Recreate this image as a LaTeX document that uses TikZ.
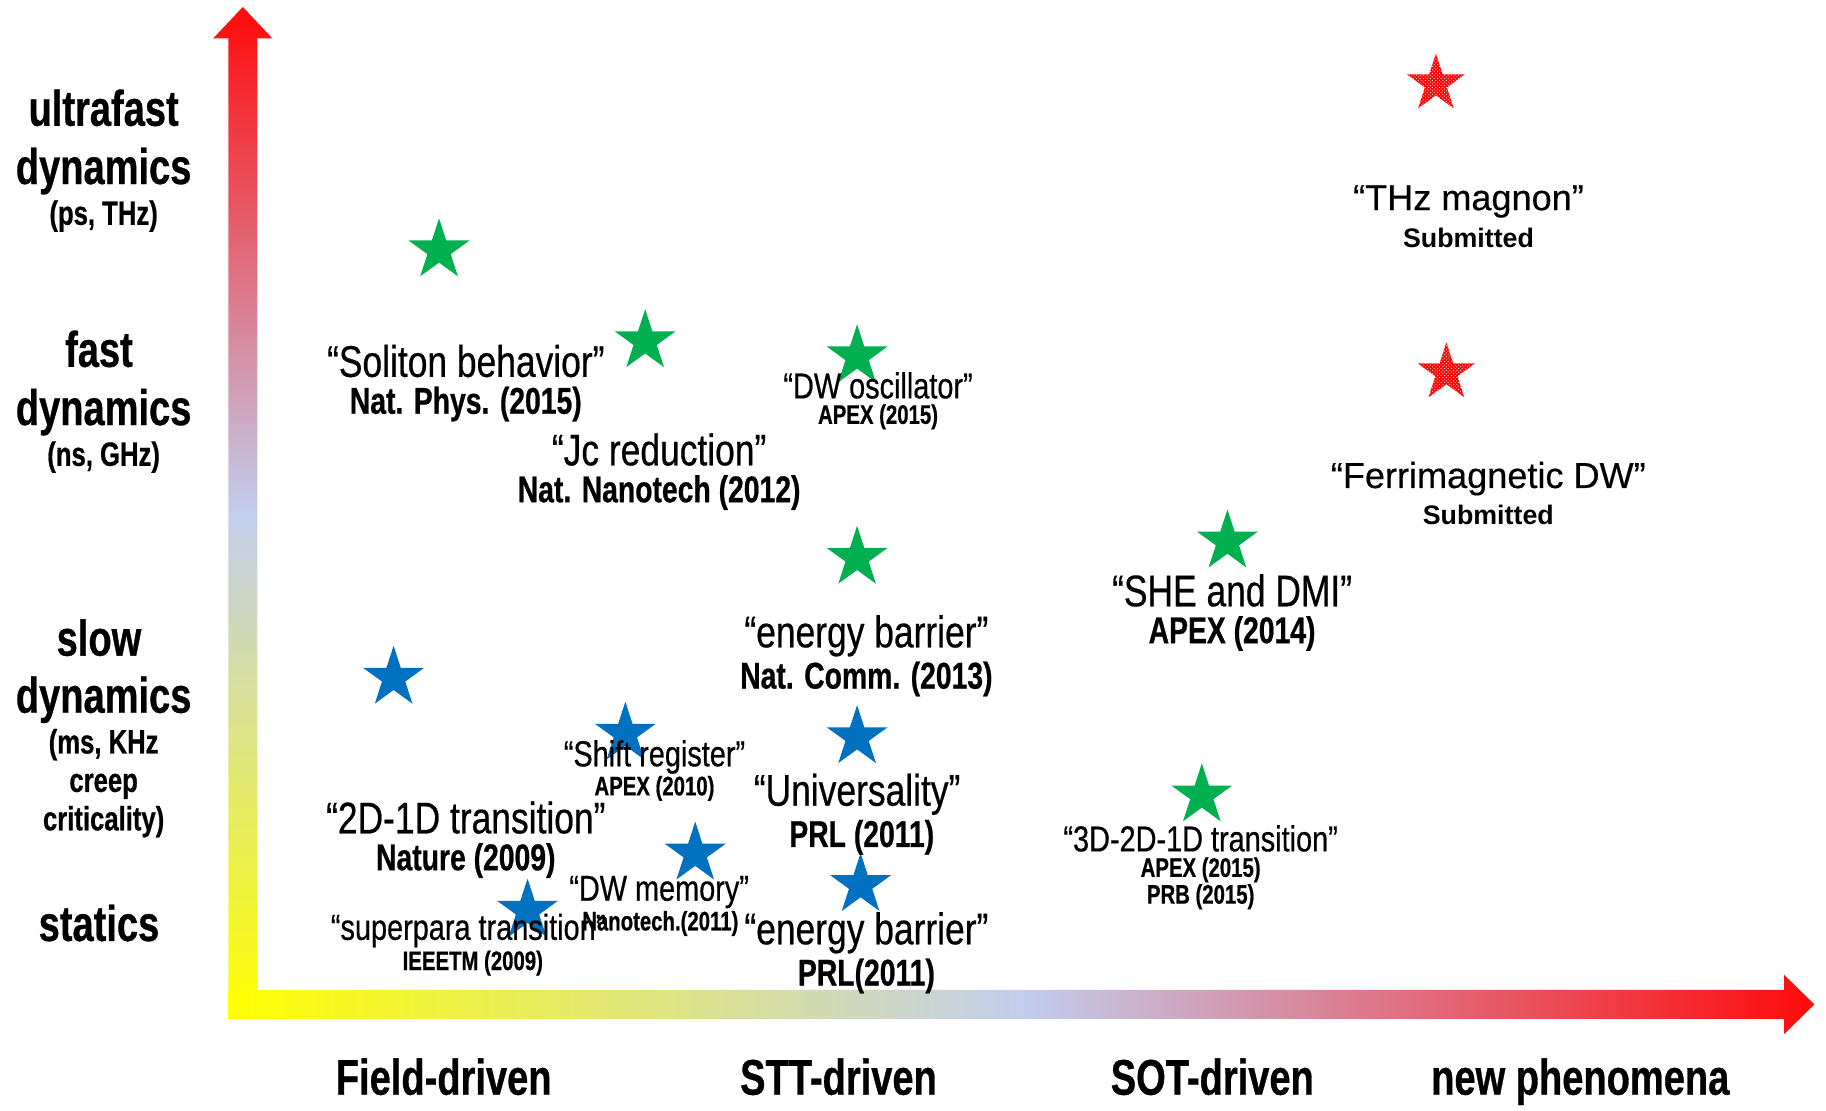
\documentclass[tikz,border=0pt]{standalone}
\usepackage{fontspec}
\setmainfont{Liberation Sans}
\newfontfamily\condB[FakeStretch=0.76,FakeBold=0.6]{Liberation Sans}
\newfontfamily\condR[FakeStretch=0.8,FakeBold=0.5]{Liberation Sans}
\newfontfamily\wideR[FakeBold=0.4]{Liberation Sans}
\usetikzlibrary{shapes.geometric,patterns}
\definecolor{axred}{HTML}{FF0A0A}
\definecolor{axyellow}{HTML}{FFFF00}
\definecolor{axblue}{HTML}{C2CEEE}
\definecolor{sgreen}{HTML}{00B050}
\definecolor{sblue}{HTML}{0070C0}
\tikzset{
  bigl/.style={font=\condB\bfseries\fontsize{43}{50}\selectfont, inner sep=0, anchor=base},
  subl/.style={font=\condB\bfseries\fontsize{29}{33}\selectfont, inner sep=0, anchor=base},
  qt/.style={font=\condR\fontsize{38}{44}\selectfont, inner sep=0},
  cit/.style={font=\condB\bfseries\fontsize{32}{36}\selectfont, inner sep=0},
  qts/.style={font=\condR\fontsize{31}{36}\selectfont, inner sep=0},
  cits/.style={font=\condB\bfseries\fontsize{23}{27}\selectfont, inner sep=0},
  qtw/.style={font=\wideR\fontsize{31}{36}\selectfont, inner sep=0},
  citw/.style={font=\bfseries\fontsize{23}{27}\selectfont, inner sep=0},
  starbase/.style={star, star points=5, star point ratio=2.618, minimum size=55pt, inner sep=0, draw=none},
  gstar/.style={starbase, fill=sgreen},
  bstar/.style={starbase, fill=sblue},
  rstar/.style={starbase, minimum size=52pt, fill=red, postaction={pattern=crosshatch dots, pattern color=white}},
}
\begin{document}
\begin{tikzpicture}[x=1pt,y=-1pt]
\useasboundingbox (0,0) rectangle (1568,954);
\fill[white] (0,0) rectangle (1568,954);
% axes
\shade[top color=axred, bottom color=axyellow, middle color=axblue]
  (221,875) -- (221,33) -- (234,33) -- (208.5,6) -- (183,33) -- (196,33) -- (196,875) -- cycle;
\shade[left color=axyellow, right color=axred, middle color=axblue]
  (196,850) -- (1532,850) -- (1532,837) -- (1558,862.5) -- (1532,888) -- (1532,875) -- (196,875) -- cycle;
% left labels
\node[bigl] (l1a) at (89,108) {ultrafast};
\node[bigl] (l1b) at (89,158) {dynamics};
\node[subl] (l1c) at (89,193) {(ps, THz)};
\node[bigl] (l2a) at (85,315) {fast};
\node[bigl] (l2b) at (89,365) {dynamics};
\node[subl] (l2c) at (89,400) {(ns, GHz)};
\node[bigl] (l3a) at (85,563) {slow};
\node[bigl] (l3b) at (89,612) {dynamics};
\node[subl] (l3c) at (89,647) {(ms, KHz};
\node[subl] (l3d) at (89,680) {creep};
\node[subl] (l3e) at (89,713) {criticality)};
\node[bigl] (l4a) at (85,808) {statics};
% bottom labels
\node[bigl] (b1) at (381,940) {Field-driven};
\node[bigl] (b2) at (720,940) {STT-driven};
\node[bigl] (b3) at (1041,940) {SOT-driven};
\node[bigl] (b4) at (1357,940) {new phenomena};
% stars
\node[gstar] (s1) at (377,215) {};
\node[gstar] (s2) at (554,293) {};
\node[gstar] (s3) at (736,306) {};
\node[gstar] (s4) at (736,479) {};
\node[gstar] (s5) at (1054,465) {};
\node[gstar] (s6) at (1032,683) {};
\node[bstar] (s7) at (338,582) {};
\node[bstar] (s8) at (537,630) {};
\node[bstar] (s9) at (736,633) {};
\node[bstar] (s10) at (597,733) {};
\node[bstar] (s11) at (739,760) {};
\node[bstar] (s12) at (453,782) {};
\node[rstar] (s13) at (1233,72) {};
\node[rstar] (s14) at (1242,320) {};
% texts
\node[qt] (q1) at (400,310) {“Soliton behavior”};
\node[cit] (c1) at (400,347) {Nat. Phys. (2015)};
\node[qt] (q2) at (566,386) {“Jc reduction”};
\node[cit] (c2) at (566,423) {Nat. Nanotech (2012)};
\node[qts] (q3) at (754,331) {“DW oscillator”};
\node[cits] (c3) at (754,358) {APEX (2015)};
\node[qt] (q4) at (744,546) {“energy barrier”};
\node[cit] (c4) at (744,583) {Nat. Comm. (2013)};
\node[qt] (q5) at (1058,507) {“SHE and DMI”};
\node[cit] (c5) at (1058,544) {APEX (2014)};
\node[qtw] (q6) at (1261,173) {“THz magnon”};
\node[citw] (c6) at (1261,204) {Submitted};
\node[qtw] (q7) at (1278,411) {“Ferrimagnetic DW”};
\node[citw] (c7) at (1278,442) {Submitted};
\node[qts] (q8) at (562,650) {“Shift register”};
\node[cits] (c8) at (562,677) {APEX (2010)};
\node[qt] (q9) at (736,682) {“Universality”};
\node[cit] (c9) at (740,719) {PRL (2011)};
\node[qt] (q10) at (400,702) {“2D-1D transition”};
\node[cit] (c10) at (400,739) {Nature (2009)};
\node[qts] (q11) at (566,766) {“DW memory”};
\node[cits] (c11) at (567,793) {Nanotech.(2011)};
\node[qts] (q12) at (402,799) {“superpara transition”};
\node[cits] (c12) at (406,827) {IEEETM (2009)};
\node[qt] (q13) at (744,801) {“energy barrier”};
\node[cit] (c13) at (744,838) {PRL(2011)};
\node[qts] (q14) at (1031,720) {“3D-2D-1D transition”};
\node[cits] (c14) at (1031,747) {APEX (2015)};
\node[cits] (c15) at (1031,770) {PRB (2015)};
\end{tikzpicture}
\end{document}
